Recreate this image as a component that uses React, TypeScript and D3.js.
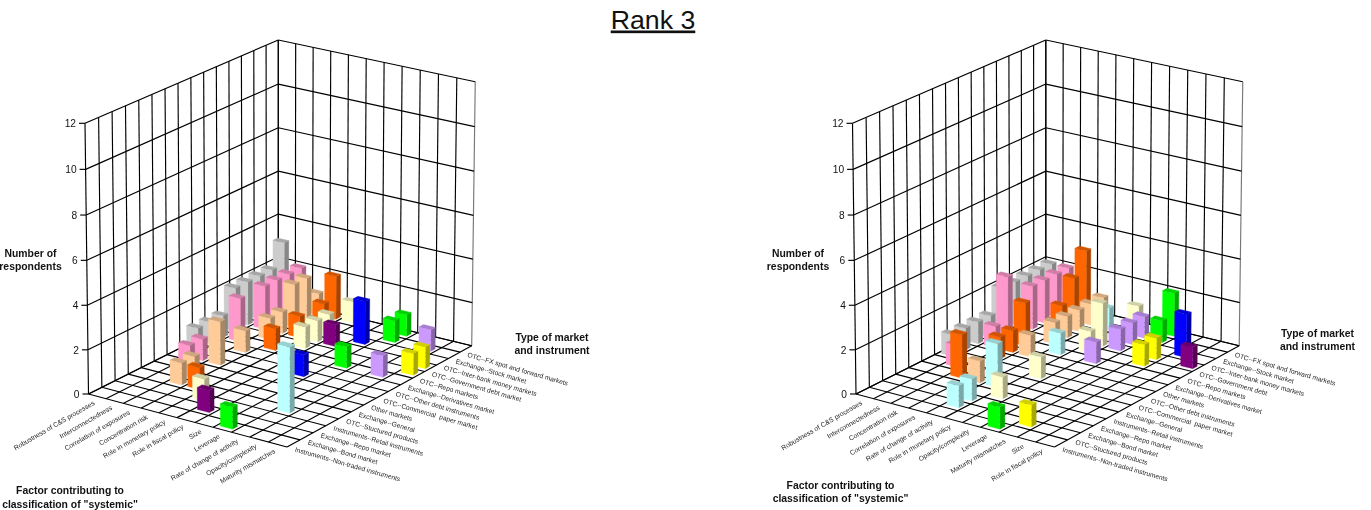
import React from 'react';
import * as d3 from 'd3';

const WIDTH = 1371;
const HEIGHT = 510;
const FONT = '"Liberation Sans", Arial, sans-serif';

const leftFactors = [
  'Robustness of C&S processes', 'Interconnectedness', 'Correlation of exposures', 'Concentration risk',
  'Role in monetary policy', 'Role in fiscal policy', 'Size', 'Leverage',
  'Rate of change of activity', 'Opacity/complexity', 'Maturity mismatches',
];
const rightFactors = [
  'Robustness of C&S processes', 'Interconnectedness', 'Concentration risk', 'Correlation of exposures',
  'Rate of change of activity', 'Role in monetary policy', 'Opacity/complexity', 'Leverage',
  'Maturity mismatches', 'Size', 'Role in fiscal policy',
];
const leftMarkets = [
  'OTC--FX spot and forward markets', 'Exchange--Stock market', 'OTC--Inter-bank money markets',
  'OTC--Government debt market', 'OTC--Repo markets', 'Exchange--Derivatives market',
  'OTC--Other debt instruments', 'OTC--Commercial  paper market', 'Other markets', 'Exchange--General',
  'OTC--Stuctured products', 'Instruments--Retail instruments', 'Exchange--Repo market',
  'Exchange--Bond market', 'Instruments--Non-traded instruments',
];
const rightMarkets = [
  'OTC--FX spot and forward markets', 'Exchange--Stock market', 'OTC--Inter-bank money markets',
  'OTC--Government debt', 'OTC--Repo markets', 'Exchange--Derivatives market', 'Other markets',
  'OTC--Other debt instruments', 'OTC--Commercial  paper market', 'Exchange--General',
  'Instruments--Retail instruments', 'Exchange--Repo market', 'Exchange--Bond market',
  'OTC--Stuctured products', 'Instruments--Non-traded instruments',
];

// Respondents per factor (rows) and market (columns).
const leftCounts = [
  [3, 2, 2, 2, 2, 1, 1, 1, 0, 0, 0, 0, 0, 0, 0],
  [2, 2, 2, 2, 0, 2, 0, 0, 1, 1, 0, 0, 0, 0, 0],
  [1, 2, 2, 1, 1, 0, 1, 0, 2, 0, 1, 1, 0, 0, 0],
  [2, 1, 0, 1, 0, 1, 0, 0, 0, 0, 0, 1, 0, 0, 0],
  [1, 0, 1, 1, 1, 0, 0, 0, 0, 0, 0, 0, 1, 0, 0],
  [0, 0, 0, 1, 0, 0, 0, 0, 0, 0, 0, 0, 0, 1, 0],
  [0, 0, 2, 0, 0, 0, 0, 1, 0, 0, 0, 0, 0, 0, 0],
  [1, 1, 0, 0, 0, 1, 0, 0, 0, 0, 0, 0, 0, 0, 1],
  [0, 0, 0, 0, 0, 0, 0, 0, 0, 0, 0, 3, 0, 0, 0],
  [0, 1, 0, 0, 0, 1, 0, 0, 0, 0, 0, 0, 0, 0, 0],
  [0, 0, 0, 1, 1, 0, 0, 0, 0, 0, 0, 0, 0, 0, 0],
];
const rightCounts = [
  [2, 2, 2, 2, 2, 1, 1, 1, 1, 0, 0, 0, 0, 0, 0],
  [2, 2, 2, 2, 0, 3, 1, 0, 0, 1, 0, 0, 0, 0, 0],
  [3, 2, 1, 0, 0, 2, 1, 1, 0, 0, 2, 0, 0, 0, 0],
  [1, 1, 1, 1, 1, 0, 1, 0, 0, 0, 1, 0, 0, 0, 0],
  [0, 1, 0, 0, 0, 1, 0, 0, 0, 0, 2, 0, 1, 1, 0],
  [1, 0, 0, 2, 1, 0, 0, 0, 1, 0, 0, 1, 0, 0, 0],
  [0, 1, 1, 1, 0, 1, 0, 0, 0, 0, 0, 0, 0, 0, 0],
  [2, 1, 0, 0, 0, 0, 0, 0, 0, 0, 0, 0, 0, 0, 1],
  [0, 0, 0, 1, 1, 0, 0, 0, 0, 0, 0, 0, 0, 1, 0],
  [0, 0, 2, 0, 0, 0, 0, 0, 0, 0, 0, 0, 0, 0, 0],
  [0, 0, 0, 1, 0, 0, 0, 0, 0, 0, 0, 0, 0, 0, 0],
];

const leftColours = ['#CCCCCC', '#FF99CC', '#FFCC99', '#FF6600', '#FFFFCC', '#800080', '#0000FF', '#00FF00', '#BBFFFF', '#CC99FF', '#FFFF00'];
const rightColours = ['#CCCCCC', '#FF99CC', '#FF6600', '#FFCC99', '#BBFFFF', '#FFFFCC', '#CC99FF', '#00FF00', '#FFFF00', '#0000FF', '#800080'];
const zTicks = [0, 2, 4, 6, 8, 10, 12];

// Screen corners of the floor: back, left, right, front.
type Pt = [number, number];
const CORNER_BACK: Pt = [278.3, 299];
const CORNER_LEFT: Pt = [88.5, 394];
const CORNER_RIGHT: Pt = [471.7, 345.7];
const CORNER_FRONT: Pt = [287, 447];
// Full wall height in pixels over the same four corners.
const WALL_BACK = 259;
const WALL_LEFT = 270.7;
const WALL_RIGHT = 264;
const WALL_FRONT = 272;
// Verticals fan out slightly away from the back corner.
const LEAN = 0.0184;
// Perspective compresses the lower part of a column a little.
const RISE_BOW = 0.025;

function solve3(m: number[][], b: number[]) {
  const a = m.map((r, i) => [...r, b[i]]);
  for (let i = 0; i < 3; i++) {
    let p = i;
    for (let j = i; j < 3; j++) if (Math.abs(a[j][i]) > Math.abs(a[p][i])) p = j;
    [a[i], a[p]] = [a[p], a[i]];
    for (let j = 0; j < 3; j++) {
      if (j === i) continue;
      const f = a[j][i] / a[i][i];
      for (let k = i; k < 4; k++) a[j][k] -= f * a[i][k];
    }
  }
  return a.map((r, i) => r[3] / r[i]);
}

// Floor homography from the unit square (u towards right corner, v towards left corner).
const [wL, wR] = solve3(
  [
    [CORNER_LEFT[0], CORNER_RIGHT[0], -CORNER_FRONT[0]],
    [CORNER_LEFT[1], CORNER_RIGHT[1], -CORNER_FRONT[1]],
    [1, 1, -1],
  ],
  [CORNER_BACK[0], CORNER_BACK[1], 1],
);
const origin = [CORNER_BACK[0], CORNER_BACK[1], 1];
const axisU = [CORNER_RIGHT[0] * wR, CORNER_RIGHT[1] * wR, wR].map((v, i) => v - origin[i]);
const axisV = [CORNER_LEFT[0] * wL, CORNER_LEFT[1] * wL, wL].map((v, i) => v - origin[i]);

const floorPoint = (u: number, v: number): Pt => {
  const h = [0, 1, 2].map(i => axisU[i] * u + axisV[i] * v + origin[i]);
  return [h[0] / h[2], h[1] / h[2]];
};
const project = (u: number, v: number, w: number): Pt => {
  const [x, y] = floorPoint(u, v);
  const wall =
    (1 - u) * (1 - v) * WALL_BACK + u * (1 - v) * WALL_RIGHT + (1 - u) * v * WALL_LEFT + u * v * WALL_FRONT;
  const rise = w - RISE_BOW * w * (1 - w);
  return [x + (x - CORNER_BACK[0]) * LEAN * rise, y - wall * rise];
};

const uScale = d3.scaleLinear().domain([0, 11]).range([0, 1]);
const vScale = d3.scaleLinear().domain([0, 15]).range([0, 1]);
const wScale = d3.scaleLinear().domain([0, 12]).range([0, 1]);
const BAR_WIDTH = 0.66;
const BAR_DEPTH = 0.38;

const poly = (pts: Pt[]) => (d3.line()(pts) ?? '') + 'Z';
const shade = (c: string, k: number) => {
  const r = d3.rgb(c);
  return d3.rgb(r.r * k, r.g * k, r.b * k).formatHex();
};
const seg = (a: Pt, b: Pt, key: string, colour = '#000', width = 1.15) => (
  <line key={key} x1={a[0]} y1={a[1]} x2={b[0]} y2={b[1]} stroke={colour} strokeWidth={width} />
);

function Bar({ f, m, value, colour }: { f: number; m: number; value: number; colour: string }) {
  const u0 = uScale(f + 0.5 - BAR_WIDTH / 2);
  const u1 = uScale(f + 0.5 + BAR_WIDTH / 2);
  const v0 = vScale(m + 0.5 - BAR_DEPTH / 2);
  const v1 = vScale(m + 0.5 + BAR_DEPTH / 2);
  const w = wScale(value);
  const front = [project(u0, v1, 0), project(u1, v1, 0), project(u1, v1, w), project(u0, v1, w)];
  const side = [project(u1, v1, 0), project(u1, v0, 0), project(u1, v0, w), project(u1, v1, w)];
  const top = [project(u0, v1, w), project(u1, v1, w), project(u1, v0, w), project(u0, v0, w)];
  const dark = shade(colour, 0.66);
  const mid = shade(colour, 0.82);
  return (
    <g>
      <path d={poly(side)} fill={dark} stroke={dark} strokeWidth={0.3} />
      <path d={poly(front)} fill={colour} stroke={colour} strokeWidth={0.3} />
      <path d={poly(top)} fill={mid} stroke={mid} strokeWidth={0.3} />
    </g>
  );
}

type ChartProps = {
  dx: number;
  factors: string[];
  markets: string[];
  counts: number[][];
  colours: string[];
  factorCaption: [number, number, number];
  marketCaption: [number, number, number];
};

function Caption({ x, y, lines, gap }: { x: number; y: number; lines: string[]; gap: number }) {
  return (
    <text textAnchor="middle" fontSize={10.4} fontWeight="bold" fill="#111">
      {lines.map((l, i) => (
        <tspan key={i} x={x} y={y + i * gap}>{l}</tspan>
      ))}
    </text>
  );
}

function Chart({ dx, factors, markets, counts, colours, factorCaption, marketCaption }: ChartProps) {
  const grid: React.ReactNode[] = [];
  const wTop = wScale(12);
  factors.forEach((_, i) => {
    const u = uScale(i);
    grid.push(seg(project(u, 0, 0), project(u, 0, wTop), `wr${i}`));
    grid.push(seg(project(u, 0, 0), project(u, 1, 0), `fu${i}`));
  });
  grid.push(seg(project(1, 0, 0), project(1, 0, wTop), 'wr-end', '#777'));
  grid.push(seg(project(1, 0, 0), project(1, 1, 0), 'fu-end'));
  markets.forEach((_, i) => {
    const v = vScale(i);
    grid.push(seg(project(0, v, 0), project(0, v, wTop), `wl${i}`));
    grid.push(seg(project(0, v, 0), project(1, v, 0), `fv${i}`));
  });
  grid.push(seg(project(0, 1, 0), project(0, 1, wTop), 'wl-end'));
  grid.push(seg(project(0, 1, 0), project(1, 1, 0), 'fv-end'));
  zTicks.forEach(t => {
    const w = wScale(t);
    grid.push(seg(project(0, 1, w), project(0, 0, w), `hl${t}`));
    grid.push(seg(project(0, 0, w), project(1, 0, w), `hr${t}`));
    const p = project(0, 1, w);
    grid.push(seg([p[0] - 6, p[1]], p, `tk${t}`));
  });

  const bars: React.ReactNode[] = [];
  counts.forEach((row, f) =>
    row.forEach((value, m) => {
      if (value > 0) bars.push(<Bar key={`${f}-${m}`} f={f} m={m} value={value} colour={colours[f]} />);
    }),
  );

  return (
    <g transform={`translate(${dx},0)`} fontFamily={FONT}>
      {grid}
      {bars}
      {/* The slight group opacity keeps small rotated text on greyscale antialiasing. */}
      <g opacity={0.995}>
        {zTicks.map(t => {
          const p = project(0, 1, wScale(t));
          return (
            <text key={t} x={p[0] - 9} y={p[1] + 3.8} textAnchor="end" fontSize={10.2} fill="#111">{t}</text>
          );
        })}
        {factors.map((label, i) => {
          const p = project(uScale(i + 0.5), 1, 0);
          const x = p[0] - 2;
          const y = p[1] + 8;
          return (
            <text key={label} x={x} y={y} textAnchor="end" fontSize={6.8} fill="#222" transform={`rotate(-30 ${x} ${y})`}>{label}</text>
          );
        })}
        {markets.map((label, i) => {
          const p = project(1, vScale(i + 0.5), 0);
          const x = p[0] + 1;
          const y = p[1] + 8;
          return (
            <text key={label} x={x} y={y} textAnchor="start" fontSize={6.7} fill="#222" transform={`rotate(16 ${x} ${y})`} style={{ whiteSpace: 'pre' }}>{label}</text>
          );
        })}
        <Caption x={30.5} y={257} gap={13} lines={['Number of', 'respondents']} />
        <Caption x={factorCaption[0]} y={factorCaption[1]} gap={factorCaption[2]} lines={['Factor contributing to', 'classification of "systemic"']} />
        <Caption x={marketCaption[0]} y={marketCaption[1]} gap={marketCaption[2]} lines={['Type of market', 'and instrument']} />
      </g>
    </g>
  );
}

export default function App() {
  return (
    <svg width={WIDTH} height={HEIGHT} viewBox={`0 0 ${WIDTH} ${HEIGHT}`} style={{ position: 'absolute', left: 0, top: 0, display: 'block', background: '#fff' }}>
      <text x={653} y={28.5} textAnchor="middle" fontFamily={FONT} fontSize={26.7} textDecoration="underline" fill="#111">Rank 3</text>
      <Chart dx={0} factors={leftFactors} markets={leftMarkets} counts={leftCounts} colours={leftColours} factorCaption={[70, 494, 14]} marketCaption={[552, 341, 13]} />
      <Chart dx={767.5} factors={rightFactors} markets={rightMarkets} counts={rightCounts} colours={rightColours} factorCaption={[73, 489, 12.8]} marketCaption={[550, 337, 13.3]} />
    </svg>
  );
}
